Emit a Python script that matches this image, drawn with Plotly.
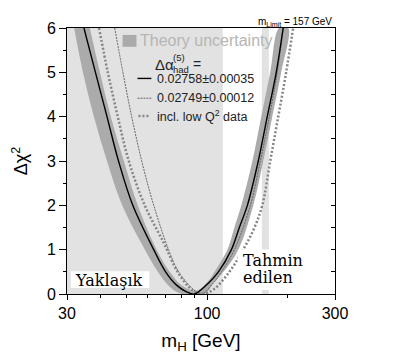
import math
import plotly.graph_objects as go

# ---------------- data ----------------
# black solid curve: Delta alpha_had^(5) = 0.02758 +- 0.00035
mH_black = [34.7, 38.3, 42.3, 46.7, 52.8, 63.2, 70.0, 76.9, 83.8, 89.8,
            101.2, 110.2, 123.2, 131.9, 141.3, 155.2, 167.6, 181.1, 192.2]
dchi2_black = [6, 5, 4, 3, 2, 1, 0.5, 0.2, 0.05, 0,
               0.25, 0.5, 1, 1.5, 2, 3, 4, 5, 6]

# theory uncertainty band: outer (lower) and inner (upper) envelope
mH_band_outer = [31.9, 34.4, 37.8, 42.3, 48.2, 58.6, 65.5, 71.5, 80.3,
                 97.8, 105.6, 115.0, 130.8, 148.7, 162.0, 175.0, 189.0, 200.7]
dchi2_band_outer = [6, 5, 4, 3, 2, 1, 0.5, 0.2, 0,
                    0, 0.25, 0.5, 1, 2, 3, 4, 5, 6]
mH_band_inner = [36.5, 39.8, 43.7, 48.9, 55.1, 64.8, 72.5, 80.3, 91.3,
                 101.2, 106.5, 119.0, 126.4, 134.2, 147.5, 159.2, 172.0, 185.8]
dchi2_band_inner = [6, 5, 4, 3, 2, 1, 0.5, 0.2, 0.08,
                    0.3, 0.5, 1, 1.5, 2, 3, 4, 5, 6]

# thin dashed curve: 0.02749 +- 0.00012
mH_dashed = [45.2, 48.5, 52.3, 57.0, 63.2, 71.8, 78.3, 89.0, 95.3,
             105.6, 113.1, 126.4, 145.0, 157.9, 170.6, 182.6, 192.2]
dchi2_dashed = [6, 5, 4, 3, 2, 1, 0.5, 0.1, 0,
                0.25, 0.5, 1, 2, 3, 4, 5, 6]

# heavy dotted curve: incl. low Q^2 data
mH_lowQ2 = [39.5, 42.6, 46.4, 51.0, 58.5, 68.8, 77.6, 87.5, 96.1,
            105.6, 121.1, 134.2, 148.7, 160.6, 172.0, 184.2, 197.2, 209.4]
dchi2_lowQ2 = [6, 5, 4, 3, 2, 1.16, 0.5, 0.1, 0,
               0.1, 0.5, 0.93, 1.44, 2, 3, 4, 5, 6]

# excluded mass regions (GeV)
excl_lo = [30, 160]
excl_hi = [114.4, 170]
m_limit = 157

x_ticks = [30, 100, 300]
x_minor = [40, 50, 60, 70, 80, 90, 200]
y_max = 6

# ---------------- figure ----------------
fig = go.Figure()

EXCL = '#e2e2e2'
for lo, hi in zip(excl_lo, excl_hi):
    fig.add_trace(go.Scatter(x=[lo, hi, hi, lo, lo], y=[0, 0, y_max, y_max, 0],
                             mode='lines', fill='toself', fillcolor=EXCL,
                             line=dict(width=0), hoverinfo='skip'))

band_x = mH_band_outer + mH_band_inner[::-1]
band_y = dchi2_band_outer + dchi2_band_inner[::-1]
fig.add_trace(go.Scatter(x=band_x, y=band_y, mode='lines', fill='toself',
                         fillcolor='#ababab', line=dict(width=0, shape='spline'),
                         hoverinfo='skip'))

fig.add_trace(go.Scatter(x=mH_dashed, y=dchi2_dashed, mode='lines',
                         line=dict(color='#666666', width=1, dash='2px,1px', shape='spline')))
fig.add_trace(go.Scatter(x=mH_lowQ2, y=dchi2_lowQ2, mode='lines',
                         line=dict(color='#858585', width=2.5, dash='2px,2px', shape='spline')))
fig.add_trace(go.Scatter(x=mH_black, y=dchi2_black, mode='lines',
                         line=dict(color='black', width=1.4, shape='spline')))
# helper trace for the right-hand (inside) tick axis
fig.add_trace(go.Scatter(x=mH_black[:1], y=dchi2_black[:1], yaxis='y2', mode='lines',
                         line=dict(width=0), hoverinfo='skip'))

# page body has an 8px margin: size the figure so that it fills the window
OFF = 8
W, H = 400 - OFF, 363 - OFF
L, R, T, B = 65 - OFF, 65, 25 - OFF, 69
PW, PH = W - L - R, H - T - B


def px(x):  # screen x -> paper
    return (x - OFF - L) / PW


def py(y):  # screen y -> paper
    return (OFF + H - B - y) / PH


fig.update_layout(
    width=W, height=H, margin=dict(l=L, r=R, t=T, b=B),
    plot_bgcolor='white', paper_bgcolor='white', showlegend=False,
    font=dict(family='Liberation Sans, Arial, sans-serif', color='black'),
    xaxis=dict(type='log', range=[math.log10(30), math.log10(300)],
               tickvals=x_ticks, ticktext=[str(v) for v in x_ticks],
               ticks='outside', ticklen=5, tickcolor='black',
               showline=True, linecolor='black', linewidth=1, mirror=True,
               showgrid=False, zeroline=False, tickfont=dict(size=16),
               minor=dict(tickvals=x_minor, ticks='outside', ticklen=3,
                          tickcolor='black', showgrid=False),
               title=dict(text='m<sub>H</sub> [GeV]', font=dict(size=19), standoff=12)),
    yaxis=dict(range=[0, y_max], dtick=1, ticks='outside', ticklen=7, tickcolor='black',
               showline=True, linecolor='black', linewidth=1, mirror=True,
               showgrid=False, zeroline=False, tickfont=dict(size=16),
               minor=dict(dtick=0.5, ticks='outside', ticklen=3, tickcolor='black',
                          showgrid=False),
               title=dict(text='Δχ<sup>2</sup>', font=dict(size=18), standoff=14)),
    yaxis2=dict(overlaying='y', side='right', range=[0, y_max], dtick=0.5,
                ticks='inside', ticklen=4, tickcolor='black', showticklabels=False,
                showgrid=False, zeroline=False, showline=False),
)

shapes = []
# legend key: theory band square
shapes.append(dict(type='rect', xref='paper', yref='paper',
                   x0=px(121), x1=px(135), y0=py(44), y1=py(32),
                   fillcolor='#ababab', line=dict(width=0)))
# legend key lines
shapes.append(dict(type='line', xref='paper', yref='paper', x0=px(136), x1=px(150),
                   y0=py(76), y1=py(76), line=dict(color='black', width=1.4)))
shapes.append(dict(type='line', xref='paper', yref='paper', x0=px(136), x1=px(150),
                   y0=py(96), y1=py(96), line=dict(color='#666666', width=1, dash='2px,1px')))
shapes.append(dict(type='line', xref='paper', yref='paper', x0=px(137), x1=px(148),
                   y0=py(114), y1=py(114), line=dict(color='#858585', width=2.5, dash='2px,2px')))
# white boxes behind the added labels
shapes.append(dict(type='rect', xref='paper', yref='paper', layer='above',
                   x0=px(69), x1=px(148), y0=py(288), y1=py(271),
                   fillcolor='white', line=dict(width=0)))
shapes.append(dict(type='rect', xref='paper', yref='paper', layer='above',
                   x0=px(237), x1=px(310), y0=py(290), y1=py(249),
                   fillcolor='white', line=dict(width=0)))
fig.update_layout(shapes=shapes)

ann = []


def add(text, x, y, size, color='#222', anchor='left', family=None):
    d = dict(text=text, xref='paper', yref='paper', x=px(x), y=py(y),
             xanchor=anchor, yanchor='middle', showarrow=False,
             font=dict(size=size, color=color))
    if family:
        d['font']['family'] = family
    ann.append(d)


add('Theory uncertainty', 137, 38, 16, color='#b5b5b5')
add('Δα', 152, 62, 15)
add('(5)', 170, 55, 9.5)
add('had', 170, 67, 9.5)
add('=', 190, 61, 14)
add('0.02758±0.00035', 154, 77, 12.5)
add('0.02749±0.00012', 154, 96, 12.5)
add('incl. low Q<sup>2</sup> data', 154, 114, 12.5)
add('m<sub>Limit</sub> = %d GeV' % m_limit, 334, 19, 10, color='black', anchor='right')
SERIF = 'DejaVu Serif, serif'
add('Yaklaşık', 71, 280, 16, color='black', family=SERIF)
add('Tahmin', 240, 260, 16, color='black', family=SERIF)
add('edilen', 240, 277, 16, color='black', family=SERIF)
fig.update_layout(annotations=ann)

fig.write_html('out.html')
